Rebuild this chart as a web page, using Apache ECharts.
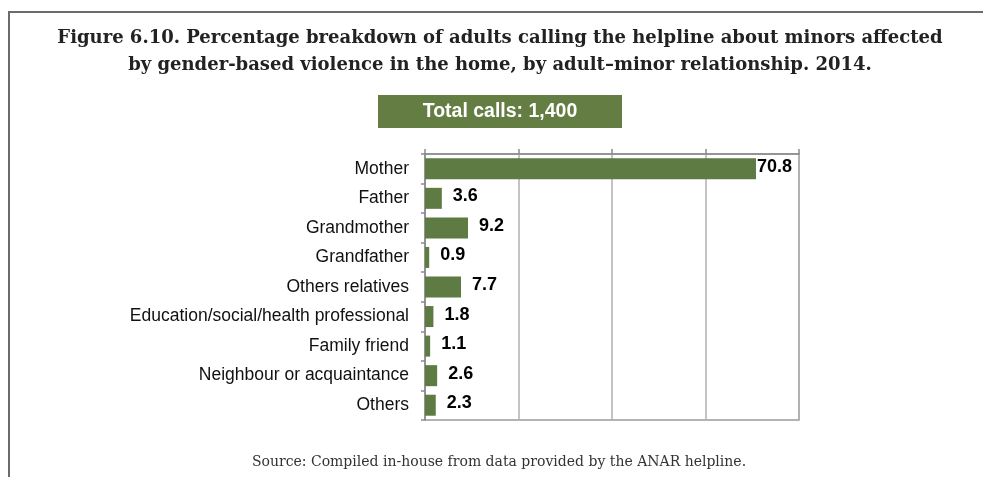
<!DOCTYPE html>
<html>
<head>
<meta charset="utf-8">
<script src="https://cdn.jsdelivr.net/npm/echarts@6/dist/echarts.min.js"></script>
<style>
  html, body { margin: 0; padding: 0; background: #fff; }
  #chart { width: 983px; height: 477px; }
</style>
</head>
<body>
<div id="chart"></div>
<script>
// relationship of the calling adult to the minor
const categories = [
  "Mother",
  "Father",
  "Grandmother",
  "Grandfather",
  "Others relatives",
  "Education/social/health professional",
  "Family friend",
  "Neighbour or acquaintance",
  "Others",
];
const percentages = [70.8, 3.6, 9.2, 0.9, 7.7, 1.8, 1.1, 2.6, 2.3];
const xTicks = [0, 20, 40, 60, 80];
const totalCalls = "1,400";
const titleLines = [
  "Figure 6.10. Percentage breakdown of adults calling the helpline about minors affected",
  "by gender-based violence in the home, by adult\u2013minor relationship. 2014.",
];

const barColor = "#5d7b43";
const chart = echarts.init(document.getElementById("chart"));
const maxVal = Math.max(...percentages);

const serifBold = {
  fill: "#222",
  fontFamily: "DejaVu Serif",
  fontWeight: "bold",
  fontSize: 18,
  align: "center",
  verticalAlign: "middle",
};

const option = {
  animation: false,
  graphic: [
    {
      type: "polyline",
      shape: { points: [[9, 477], [9, 12], [983, 12]] },
      style: { stroke: "#6b6b6b", lineWidth: 2, fill: null },
    },
    { type: "text", x: 500, y: 38, style: { ...serifBold, text: titleLines[0] } },
    { type: "text", x: 500, y: 65, style: { ...serifBold, text: titleLines[1] } },
    {
      type: "rect",
      shape: { x: 378, y: 95, width: 244, height: 33 },
      style: { fill: "#647d42" },
    },
    {
      type: "text",
      x: 500,
      y: 112,
      style: {
        text: "Total calls: " + totalCalls,
        fill: "#fff",
        fontFamily: "Liberation Sans",
        fontWeight: "bold",
        fontSize: 19.5,
        align: "center",
        verticalAlign: "middle",
      },
    },
    {
      type: "text",
      x: 499,
      y: 462,
      style: {
        text: "Source: Compiled in-house from data provided by the ANAR helpline.",
        fill: "#333",
        fontFamily: "DejaVu Serif",
        fontSize: 14,
        align: "center",
        verticalAlign: "middle",
      },
    },
  ],
  grid: {
    left: 425,
    right: 184,
    top: 154,
    bottom: 57,
    show: true,
    borderColor: "#9a9a9a",
    borderWidth: 1.5,
  },
  xAxis: {
    type: "value",
    position: "top",
    min: xTicks[0],
    max: xTicks[xTicks.length - 1],
    interval: xTicks[1] - xTicks[0],
    axisLine: { show: true, lineStyle: { color: "#8a8a8a", width: 1.5 } },
    axisTick: { show: true, length: 5, lineStyle: { color: "#8a8a8a", width: 1.5 } },
    axisLabel: { show: false },
    splitLine: { show: true, lineStyle: { color: "#b0b0b0", width: 1.5 } },
  },
  yAxis: {
    type: "category",
    data: categories,
    inverse: true,
    axisLine: { show: true, lineStyle: { color: "#8a8a8a", width: 1.5 } },
    axisTick: { show: true, length: 4, lineStyle: { color: "#8a8a8a", width: 1.5 } },
    axisLabel: {
      margin: 16,
      color: "#111",
      fontFamily: "Liberation Sans",
      fontSize: 17.5,
    },
  },
  series: [
    {
      type: "bar",
      barWidth: 21,
      itemStyle: { color: barColor },
      data: percentages.map((v) => ({
        value: v,
        label: { distance: v === maxVal ? 1 : 11 },
      })),
      label: {
        show: true,
        position: "right",
        offset: [0, -2],
        color: "#000",
        fontFamily: "Liberation Sans",
        fontWeight: "bold",
        fontSize: 18,
        formatter: (p) => p.value.toFixed(1),
      },
    },
  ],
};

chart.setOption(option);
</script>
</body>
</html>
